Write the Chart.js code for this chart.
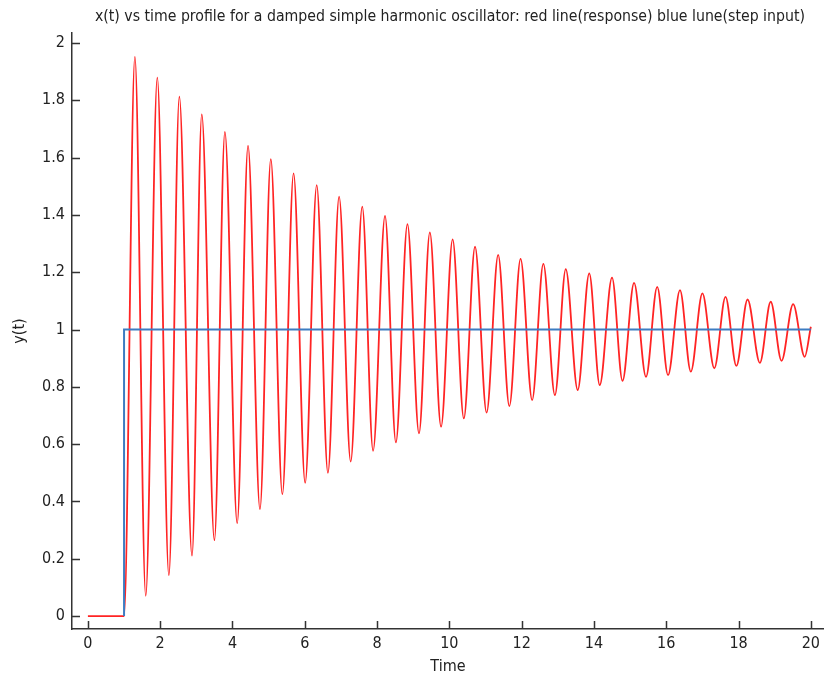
<!DOCTYPE html>
<html>
<head>
<meta charset="utf-8">
<script src="https://cdn.jsdelivr.net/npm/chart.js@4.4.1/dist/chart.umd.min.js"></script>
<style>
  html, body { margin: 0; padding: 0; background: #fff; }
  #wrap { width: 825px; height: 679px; }
</style>
</head>
<body>
<div id="wrap"><canvas id="oscChart" width="825" height="679"></canvas></div>
<script>
const chartTitle = 'x(t) vs time profile for a damped simple harmonic oscillator: red line(response) blue lune(step input)';

// step input, switched on at t = 1 (the flat part before it is covered by the response)
const stepTime = [1, 1, 20];
const stepValue = [0, 1, 1];

// oscillator response: rest, then the alternating peaks and troughs
const responseTime = [
  0, 1.00,
  1.30, 1.60, 1.92, 2.24, 2.53, 2.88, 3.15, 3.50, 3.79, 4.13,
  4.43, 4.76, 5.06, 5.38, 5.69, 6.01, 6.33, 6.64, 6.95, 7.27,
  7.59, 7.89, 8.22, 8.52, 8.84, 9.16, 9.46, 9.77, 10.09, 10.40,
  10.71, 11.03, 11.35, 11.66, 11.97, 12.29, 12.60, 12.92, 13.22, 13.55,
  13.87, 14.16, 14.50, 14.79, 15.11, 15.44, 15.75, 16.05, 16.38, 16.68,
  17.00, 17.33, 17.64, 17.94, 18.25, 18.59, 18.89, 19.19, 19.51, 19.83,
  20.00
];
const responseValue = [
  0, 0,
  1.952, 0.071, 1.879, 0.143, 1.813, 0.211, 1.751, 0.265, 1.690, 0.324,
  1.642, 0.373, 1.595, 0.425, 1.545, 0.465, 1.504, 0.500, 1.464, 0.539,
  1.429, 0.577, 1.397, 0.606, 1.368, 0.638, 1.339, 0.661, 1.315, 0.690,
  1.289, 0.710, 1.261, 0.733, 1.247, 0.754, 1.229, 0.771, 1.211, 0.789,
  1.196, 0.806, 1.181, 0.821, 1.163, 0.835, 1.149, 0.841, 1.138, 0.853,
  1.126, 0.865, 1.114, 0.873, 1.105, 0.884, 1.097, 0.891, 1.089, 0.905,
  1.010
];

const xTicks = [0, 2, 4, 6, 8, 10, 12, 14, 16, 18, 20];
const yTicks = [0, 0.2, 0.4, 0.6, 0.8, 1, 1.2, 1.4, 1.6, 1.8, 2];

const fontFamily = "'Liberation Sans Narrow', 'Arial Narrow', 'DejaVu Sans Condensed', sans-serif";
const inkColor = '#222';
const axisColor = '#333';

Chart.defaults.font.family = fontFamily;
Chart.defaults.font.size = 16;
Chart.defaults.color = inkColor;

function toPoints(xs, ys) {
  return xs.map((x, i) => ({ x: x, y: ys[i] }));
}

// tick marks pointing into the plot
const innerTicks = {
  id: 'innerTicks',
  afterDatasetsDraw(chart) {
    const { ctx, chartArea, scales } = chart;
    ctx.save();
    ctx.strokeStyle = axisColor;
    ctx.lineWidth = 1.5;
    ctx.beginPath();
    scales.x.ticks.forEach(t => {
      const px = Math.round(scales.x.getPixelForValue(t.value)) + 0.5;
      ctx.moveTo(px, chartArea.bottom);
      ctx.lineTo(px, chartArea.bottom - 8);
    });
    scales.y.ticks.forEach(t => {
      const py = Math.round(scales.y.getPixelForValue(t.value)) + 0.5;
      ctx.moveTo(chartArea.left, py);
      ctx.lineTo(chartArea.left + 8, py);
    });
    ctx.stroke();
    ctx.restore();
  }
};

// title centred over the axes rather than the whole canvas
const axesTitle = {
  id: 'axesTitle',
  afterDraw(chart) {
    const { ctx, chartArea } = chart;
    ctx.save();
    ctx.font = '16px ' + fontFamily;
    ctx.fillStyle = inkColor;
    ctx.textAlign = 'center';
    ctx.textBaseline = 'middle';
    const w = ctx.measureText(chartTitle).width;
    ctx.translate((chartArea.left + chartArea.right) / 2 + 2, 17);
    ctx.scale(710 / w, 1);
    ctx.fillText(chartTitle, 0, 0);
    ctx.restore();
  }
};

const ctx = document.getElementById('oscChart').getContext('2d');

const oscChart = new Chart(ctx, {
  type: 'line',
  data: {
    datasets: [
      {
        label: 'step input',
        data: toPoints(stepTime, stepValue),
        borderColor: '#3d7cc2',
        borderWidth: 2,
        pointRadius: 0,
        tension: 0
      },
      {
        label: 'response',
        data: toPoints(responseTime, responseValue),
        borderColor: '#ff2424',
        borderWidth: 1.8,
        pointRadius: 0,
        cubicInterpolationMode: 'monotone'
      }
    ]
  },
  options: {
    responsive: false,
    animation: false,
    events: [],
    layout: { padding: { top: 33, right: 1, left: 0, bottom: 0 } },
    plugins: {
      legend: { display: false },
      tooltip: { enabled: false },
      title: { display: false }
    },
    scales: {
      x: {
        type: 'linear',
        min: -0.44,
        max: 20.36,
        afterBuildTicks: s => { s.ticks = xTicks.map(v => ({ value: v })); },
        afterFit: s => { s.height = 50; },
        grid: { display: false, drawTicks: false },
        border: { display: true, color: axisColor, width: 1.5 },
        ticks: { padding: 5, maxRotation: 0, autoSkip: false },
        title: { display: true, text: 'Time', padding: { top: 0, bottom: 3 } }
      },
      y: {
        type: 'linear',
        min: -0.045,
        max: 2.035,
        afterBuildTicks: s => { s.ticks = yTicks.map(v => ({ value: v })); },
        afterFit: s => { s.width = 72; },
        grid: { display: false, drawTicks: false },
        border: { display: true, color: axisColor, width: 1.5 },
        ticks: { padding: 7, autoSkip: false, callback: v => String(v) },
        title: { display: true, text: 'y(t)', padding: { top: 10, bottom: 0 } }
      }
    }
  },
  plugins: [innerTicks, axesTitle]
});
</script>
</body>
</html>
